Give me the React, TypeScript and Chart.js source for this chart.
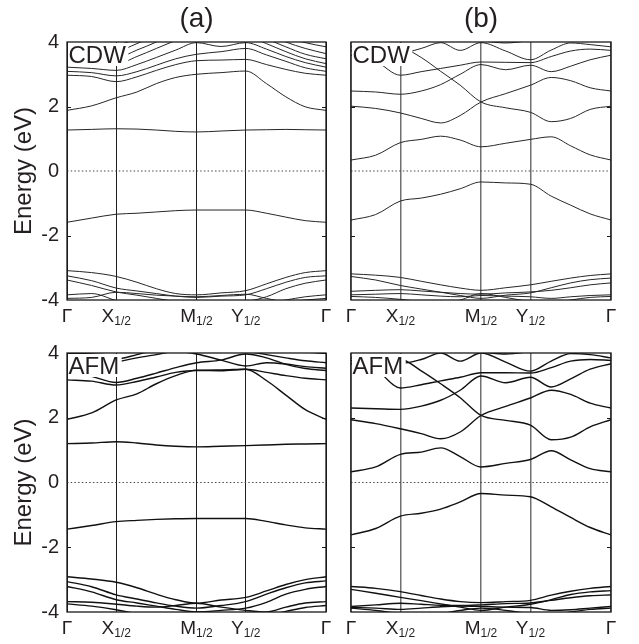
import React, { useEffect, useRef } from 'react';
import { Chart, registerables } from 'chart.js';

Chart.register(...registerables);

const FONT = '"Liberation Sans", Arial, Helvetica, sans-serif';
const TEXT = '#231f20';

// k-path sampling positions (fraction of total path length)
const kPath = [0, 0.095, 0.19, 0.27, 0.345, 0.42, 0.5, 0.595, 0.69, 0.77, 0.845, 0.92, 1.0];
const symPoints = [0, 0.19, 0.5, 0.69, 1.0];
const symLetters = ['Γ', 'X', 'M', 'Y', 'Γ'];
const symSubs = ['', '1/2', '1/2', '1/2', ''];
const energyTicks = [-4, -2, 0, 2, 4];
const innerTicks = [-2, 2];
const panelTitles = ['(a)', '(b)'];
const phaseTags = ['CDW', 'AFM'];

// (a) CDW
const cdwA: number[][] = [
  [-1.59, -1.46, -1.34, -1.31, -1.27, -1.23, -1.21, -1.21, -1.21, -1.31, -1.43, -1.54, -1.59],
  [-3.09, -3.15, -3.27, -3.45, -3.65, -3.80, -3.84, -3.78, -3.71, -3.50, -3.30, -3.15, -3.09],
  [-3.25, -3.40, -3.63, -3.72, -3.80, -3.88, -3.92, -3.88, -3.84, -3.65, -3.45, -3.30, -3.25],
  [-3.38, -3.55, -3.75, -3.85, -3.95, -4.05, -4.10, -4.10, -4.05, -3.90, -3.65, -3.48, -3.38],
  [-3.84, -3.80, -4.02, -4.20, -4.30, -4.30, -4.30, -4.30, -4.20, -4.10, -4.00, -3.90, -3.84],
  [-3.95, -3.92, -3.76, -3.80, -3.85, -3.88, -3.90, -3.86, -3.82, -3.95, -4.05, -4.00, -3.95],
  [1.27, 1.29, 1.31, 1.30, 1.27, 1.23, 1.21, 1.24, 1.27, 1.28, 1.29, 1.28, 1.27],
  [1.88, 2.02, 2.27, 2.45, 2.71, 2.90, 3.00, 3.05, 3.10, 2.71, 2.30, 1.99, 1.88],
  [2.97, 2.93, 2.77, 2.92, 3.12, 3.30, 3.42, 3.44, 3.46, 3.30, 3.15, 3.03, 2.97],
  [3.09, 3.05, 2.95, 3.08, 3.28, 3.48, 3.62, 3.70, 3.80, 3.60, 3.40, 3.20, 3.09],
  [3.22, 3.18, 3.12, 3.30, 3.52, 3.75, 3.98, 3.86, 3.98, 3.78, 3.55, 3.36, 3.22],
  [3.33, 3.32, 3.32, 3.55, 3.80, 4.05, 4.30, 4.30, 4.20, 3.95, 3.70, 3.48, 3.33],
  [3.48, 3.47, 3.50, 3.75, 4.00, 4.30, 4.50, 4.50, 4.40, 4.10, 3.85, 3.62, 3.48],
  [3.64, 3.65, 3.70, 3.95, 4.20, 4.40, 4.60, 4.60, 4.50, 4.25, 4.00, 3.80, 3.64],
  [3.85, 3.86, 3.90, 4.10, 4.30, 4.50, 4.70, 4.70, 4.60, 4.40, 4.15, 3.98, 3.85],
];

// (b) CDW
const cdwB: number[][] = [
  [-1.52, -1.35, -0.93, -0.84, -0.72, -0.55, -0.34, -0.37, -0.41, -0.78, -1.06, -1.33, -1.52],
  [-3.19, -3.23, -3.30, -3.42, -3.53, -3.63, -3.70, -3.62, -3.53, -3.42, -3.32, -3.24, -3.19],
  [-3.27, -3.38, -3.55, -3.66, -3.76, -3.86, -3.95, -3.85, -3.78, -3.62, -3.47, -3.37, -3.32],
  [-3.73, -3.70, -3.68, -3.72, -3.76, -3.80, -3.82, -3.78, -3.75, -3.70, -3.62, -3.53, -3.47],
  [-3.84, -3.82, -3.80, -3.84, -3.88, -3.90, -3.86, -3.88, -3.90, -3.95, -3.90, -3.86, -3.84],
  [-3.89, -3.92, -3.98, -4.05, -4.10, -4.00, -3.80, -3.92, -4.05, -4.10, -4.00, -3.92, -3.89],
  [0.34, 0.49, 0.88, 0.98, 1.08, 0.96, 0.75, 0.86, 0.98, 1.06, 0.78, 0.50, 0.34],
  [2.01, 1.94, 1.80, 1.63, 1.49, 1.72, 2.14, 2.40, 2.66, 2.90, 2.80, 2.58, 2.48],
  [3.85, 3.92, 3.85, 3.52, 3.09, 2.66, 2.14, 1.96, 1.82, 1.53, 1.63, 1.91, 2.01],
  [2.48, 2.45, 2.38, 2.48, 2.68, 3.00, 3.30, 3.14, 3.28, 3.08, 3.25, 3.45, 3.59],
  [3.59, 3.40, 2.97, 3.08, 3.18, 3.28, 3.38, 3.37, 3.36, 3.55, 3.72, 3.78, 3.74],
  [3.74, 3.70, 3.66, 3.80, 3.98, 3.74, 3.98, 3.72, 3.45, 3.75, 3.97, 3.92, 3.85],
  [4.30, 4.25, 4.20, 4.15, 4.10, 4.05, 4.03, 3.97, 4.05, 4.15, 4.20, 4.25, 4.30],
];

// (a) AFM
const afmA: number[][] = [
  [-1.44, -1.33, -1.21, -1.17, -1.14, -1.12, -1.11, -1.11, -1.11, -1.20, -1.31, -1.40, -1.44],
  [-2.91, -2.98, -3.08, -3.25, -3.45, -3.62, -3.73, -3.63, -3.55, -3.35, -3.15, -3.00, -2.91],
  [-3.06, -3.22, -3.47, -3.60, -3.72, -3.82, -3.88, -3.80, -3.68, -3.45, -3.25, -3.10, -3.04],
  [-3.21, -3.38, -3.62, -3.72, -3.82, -3.92, -4.00, -3.95, -3.88, -3.70, -3.45, -3.30, -3.21],
  [-3.68, -3.70, -3.76, -3.82, -3.85, -3.80, -3.73, -3.85, -3.95, -4.00, -3.85, -3.72, -3.68],
  [-3.75, -3.82, -3.93, -4.05, -4.10, -4.10, -4.00, -4.05, -4.10, -4.10, -3.98, -3.86, -3.80],
  [1.20, 1.22, 1.26, 1.22, 1.16, 1.12, 1.10, 1.12, 1.14, 1.16, 1.18, 1.19, 1.20],
  [1.95, 2.15, 2.55, 2.74, 3.05, 3.30, 3.47, 3.48, 3.50, 3.15, 2.70, 2.25, 1.95],
  [3.17, 3.13, 3.01, 3.12, 3.26, 3.40, 3.46, 3.45, 3.50, 3.40, 3.30, 3.22, 3.17],
  [3.46, 3.28, 3.09, 3.22, 3.38, 3.55, 3.70, 3.78, 3.97, 3.85, 3.65, 3.52, 3.46],
  [3.53, 3.60, 3.72, 3.85, 3.95, 4.05, 3.97, 3.78, 3.60, 3.70, 3.66, 3.58, 3.53],
  [3.70, 3.75, 3.80, 3.95, 4.10, 4.20, 4.20, 4.10, 4.05, 3.95, 3.85, 3.76, 3.70],
  [3.99, 4.00, 4.05, 4.20, 4.30, 4.40, 4.40, 4.30, 4.20, 4.15, 4.10, 4.03, 3.99],
];

// (b) AFM
const afmB: number[][] = [
  [-1.62, -1.42, -1.04, -0.95, -0.82, -0.60, -0.34, -0.39, -0.44, -0.75, -1.08, -1.39, -1.62],
  [-3.21, -3.27, -3.37, -3.49, -3.60, -3.68, -3.71, -3.68, -3.64, -3.48, -3.36, -3.27, -3.21],
  [-3.30, -3.42, -3.55, -3.65, -3.75, -3.85, -3.95, -3.85, -3.76, -3.62, -3.46, -3.38, -3.34],
  [-3.83, -3.78, -3.73, -3.76, -3.79, -3.80, -3.78, -3.74, -3.72, -3.64, -3.56, -3.50, -3.47],
  [-3.86, -3.88, -3.92, -3.88, -3.84, -3.82, -3.83, -3.85, -3.86, -3.95, -3.93, -3.88, -3.83],
  [-3.88, -3.95, -4.05, -4.10, -4.05, -3.95, -3.88, -3.95, -4.05, -4.10, -4.00, -3.92, -3.88],
  [0.33, 0.48, 0.87, 0.94, 1.07, 0.80, 0.48, 0.59, 0.71, 0.98, 0.70, 0.43, 0.33],
  [1.94, 1.82, 1.66, 1.51, 1.35, 1.56, 2.07, 2.35, 2.61, 2.85, 2.72, 2.45, 2.30],
  [3.67, 3.78, 3.80, 3.45, 3.05, 2.62, 2.07, 1.92, 1.77, 1.32, 1.40, 1.72, 1.94],
  [2.30, 2.28, 2.26, 2.36, 2.54, 2.85, 3.29, 3.08, 3.25, 2.95, 3.20, 3.50, 3.67],
  [3.77, 3.50, 2.92, 3.02, 3.14, 3.25, 3.39, 3.39, 3.38, 3.55, 3.75, 3.80, 3.77],
  [3.85, 3.75, 3.68, 3.80, 4.00, 3.75, 4.00, 3.72, 3.44, 3.75, 3.98, 3.95, 3.85],
  [4.30, 4.25, 4.20, 4.15, 4.10, 4.05, 4.03, 3.97, 4.05, 4.15, 4.20, 4.25, 4.30],
];

type PanelCfg = {
  bands: number[][];
  tag: string;
  title: string;
  showY: boolean;
  gridColor: string;
  gridWidth: number;
  lineColor: string;
  lineWidth: number;
  left: number;
  top: number;
  width: number;
  height: number;
  area: { left: number; right: number; top: number; bottom: number };
};

const panels: PanelCfg[] = [
  { bands: cdwA, tag: phaseTags[0], title: panelTitles[0], showY: true, gridColor: '#1e1e1e', gridWidth: 1, lineColor: '#262626', lineWidth: 1, left: 0, top: 0, width: 335, height: 330, area: { left: 67, right: 326, top: 42, bottom: 300 } },
  { bands: cdwB, tag: phaseTags[0], title: panelTitles[1], showY: false, gridColor: '#707070', gridWidth: 1.5, lineColor: '#262626', lineWidth: 1, left: 335, top: 0, width: 304, height: 330, area: { left: 16, right: 276, top: 42, bottom: 300 } },
  { bands: afmA, tag: phaseTags[1], title: '', showY: true, gridColor: '#1e1e1e', gridWidth: 1, lineColor: '#111', lineWidth: 1.4, left: 0, top: 330, width: 335, height: 314, area: { left: 67, right: 326, top: 23, bottom: 282 } },
  { bands: afmB, tag: phaseTags[1], title: '', showY: false, gridColor: '#707070', gridWidth: 1.5, lineColor: '#111', lineWidth: 1.4, left: 335, top: 330, width: 304, height: 314, area: { left: 16, right: 276, top: 23, bottom: 282 } },
];

function Panel(p: PanelCfg) {
  const ref = useRef<HTMLCanvasElement>(null);
  useEffect(() => {
    const canvas = ref.current;
    if (!canvas) return;
    const datasets: any[] = [
      {
        data: [{ x: 0, y: 0 }, { x: 1, y: 0 }],
        borderColor: '#4a4a4a',
        borderWidth: 1.2,
        borderDash: [1.5, 2.2],
        pointRadius: 0,
      },
      ...p.bands.map((b) => ({
        data: kPath.map((k, i) => ({ x: k, y: b[i] })),
        borderColor: p.lineColor,
        borderWidth: p.lineWidth,
        pointRadius: 0,
        cubicInterpolationMode: 'monotone',
      })),
    ];
    const decor = {
      id: 'decor',
      afterDatasetsDraw(chart: any) {
        const { ctx, chartArea: a, scales } = chart;
        const xs = scales.x;
        const ys = scales.y;
        ctx.save();
        // phase tag with white backing
        ctx.font = `24px ${FONT}`;
        const tw = ctx.measureText(p.tag).width;
        ctx.fillStyle = '#fff';
        ctx.fillRect(a.left + 1, a.top + 1, tw + 3, 23);
        ctx.fillStyle = TEXT;
        ctx.textAlign = 'left';
        ctx.textBaseline = 'alphabetic';
        ctx.fillText(p.tag, a.left + 1.5, a.top + 21);
        // frame
        ctx.strokeStyle = '#1a1a1a';
        ctx.lineWidth = 1.3;
        ctx.strokeRect(a.left, a.top, a.right - a.left, a.bottom - a.top);
        // inward ticks
        ctx.lineWidth = 1;
        innerTicks.forEach((v) => {
          const py = Math.round(ys.getPixelForValue(v)) + 0.5;
          ctx.beginPath();
          ctx.moveTo(a.left, py);
          ctx.lineTo(a.left + 4, py);
          ctx.moveTo(a.right, py);
          ctx.lineTo(a.right - 4, py);
          ctx.stroke();
        });
        // k-point labels
        ctx.fillStyle = TEXT;
        symPoints.forEach((v, i) => {
          const px = xs.getPixelForValue(v);
          ctx.font = `19px ${FONT}`;
          const w1 = ctx.measureText(symLetters[i]).width;
          ctx.font = `12px ${FONT}`;
          const w2 = symSubs[i] ? ctx.measureText(symSubs[i]).width : 0;
          const x0 = px - (w1 + w2) / 2;
          ctx.font = `19px ${FONT}`;
          ctx.fillText(symLetters[i], x0, a.bottom + 22);
          if (symSubs[i]) {
            ctx.font = `12px ${FONT}`;
            ctx.fillText(symSubs[i], x0 + w1, a.bottom + 25);
          }
        });
        if (p.title) {
          ctx.font = `28px ${FONT}`;
          ctx.textAlign = 'center';
          ctx.fillText(p.title, (a.left + a.right) / 2, 27);
        }
        ctx.restore();
      },
    };
    const chart = new Chart(canvas, {
      type: 'line',
      data: { datasets },
      options: {
        animation: false,
        responsive: false,
        maintainAspectRatio: false,
        events: [],
        layout: { padding: { left: 0, top: p.area.top, right: p.width - p.area.right, bottom: 0 } },
        plugins: { legend: { display: false }, tooltip: { enabled: false } },
        scales: {
          x: {
            type: 'linear',
            min: 0,
            max: 1,
            afterBuildTicks: (s: any) => {
              s.ticks = symPoints.map((v) => ({ value: v }));
            },
            afterFit: (s: any) => {
              s.height = p.height - p.area.bottom;
            },
            ticks: { display: false },
            grid: { color: p.gridColor, lineWidth: p.gridWidth, drawTicks: false },
            border: { display: false },
          },
          y: {
            type: 'linear',
            min: -4,
            max: 4,
            afterBuildTicks: (s: any) => {
              s.ticks = energyTicks.map((v) => ({ value: v }));
            },
            afterFit: (s: any) => {
              s.width = p.area.left;
            },
            ticks: {
              display: p.showY,
              padding: 8,
              color: TEXT,
              font: { family: FONT, size: 20 },
              callback: (v: any) => String(v),
            },
            grid: { display: false, drawTicks: false },
            border: { display: false },
            title: {
              display: p.showY,
              text: 'Energy (eV)',
              color: TEXT,
              font: { family: FONT, size: 24, lineHeight: 1.2 },
              padding: { top: 10, bottom: 0 },
            },
          },
        },
      } as any,
      plugins: [decor],
    });
    return () => chart.destroy();
  }, []);
  return (
    <canvas
      ref={ref}
      width={p.width}
      height={p.height}
      style={{ position: 'absolute', left: p.left, top: p.top, width: p.width, height: p.height }}
    />
  );
}

export default function App() {
  return (
    <div style={{ position: 'absolute', left: 0, top: 0, width: 639, height: 644, background: '#fff', overflow: 'hidden' }}>
      {panels.map((p, i) => (
        <Panel key={i} {...p} />
      ))}
    </div>
  );
}
